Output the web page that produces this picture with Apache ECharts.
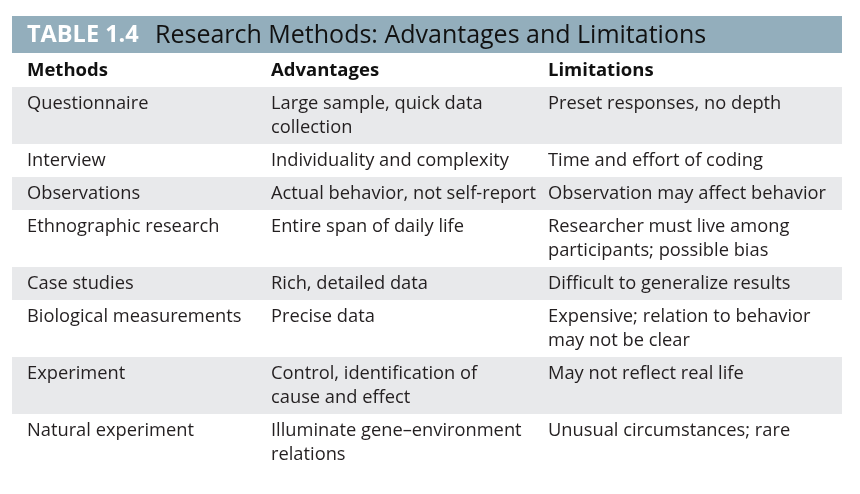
<!DOCTYPE html>
<html><head><meta charset="utf-8">
<script src="https://cdn.jsdelivr.net/npm/echarts@6/dist/echarts.min.js"></script>
<style>html,body{margin:0;padding:0;background:#fff}#c{width:860px;height:494px}</style>
</head><body><div id="c"></div>
<script>
const tableLabel = "TABLE 1.4";
const tableTitle = "Research Methods: Advantages and Limitations";
const headers = ["Methods", "Advantages", "Limitations"];
const methods = ["Questionnaire", "Interview", "Observations", "Ethnographic research", "Case studies", "Biological measurements", "Experiment", "Natural experiment"];
const advantages = ["Large sample, quick data\ncollection", "Individuality and complexity", "Actual behavior, not self-report", "Entire span of daily life", "Rich, detailed data", "Precise data", "Control, identification of\ncause and effect", "Illuminate gene\u2013environment\nrelations"];
const limitations = ["Preset responses, no depth", "Time and effort of coding", "Observation may affect behavior", "Researcher must live among\nparticipants; possible bias", "Difficult to generalize results", "Expensive; relation to behavior\nmay not be clear", "May not reflect real life", "Unusual circumstances; rare"];

const FONT = '"Open Sans", "Noto Sans", sans-serif';
const LH = 24, PAD = 9;
const colX = [15, 259, 536];
function nLines(i){ return Math.max(advantages[i].split('\n').length, limitations[i].split('\n').length, methods[i].split('\n').length); }
const rows = [];
let acc = 0;
for (let i = 0; i < methods.length; i++) {
  const h = PAD + LH * nLines(i);
  rows.push([i, acc, acc + h]);
  acc += h;
}
const total = acc;

const chart = echarts.init(document.getElementById('c'), null, {renderer: 'canvas'});
chart.setOption({
  animation: false,
  grid: {left: 12, top: 87, width: 830, height: total},
  xAxis: {type: 'value', min: 0, max: 830, show: false},
  yAxis: {type: 'value', min: 0, max: total, inverse: true, show: false},
  graphic: [
    {type: 'rect', shape: {x: 12, y: 16, width: 830, height: 37}, style: {fill: '#93AEBC'}},
    {type: 'text', x: 27, y: 35.5, style: {text: tableLabel, font: 'bold 23.5px ' + FONT, fill: '#ffffff', verticalAlign: 'middle'}},
    {type: 'text', x: 155, y: 35.5, style: {text: tableTitle, font: '25px ' + FONT, fill: '#111111', verticalAlign: 'middle'}},
    {type: 'text', x: 12 + colX[0], y: 70.5, style: {text: headers[0], font: 'bold 18.5px ' + FONT, fill: '#111111', verticalAlign: 'middle'}},
    {type: 'text', x: 12 + colX[1], y: 70.5, style: {text: headers[1], font: 'bold 18.5px ' + FONT, fill: '#111111', verticalAlign: 'middle'}},
    {type: 'text', x: 12 + colX[2], y: 70.5, style: {text: headers[2], font: 'bold 18.5px ' + FONT, fill: '#111111', verticalAlign: 'middle'}}
  ],
  series: [{
    type: 'custom',
    data: rows,
    renderItem: function(params, api) {
      const i = api.value(0);
      const p0 = api.coord([0, api.value(1)]);
      const p1 = api.coord([830, api.value(2)]);
      const children = [];
      if (i % 2 === 0) {
        children.push({type: 'rect', shape: {x: p0[0], y: p0[1], width: p1[0] - p0[0], height: p1[1] - p0[1]}, style: {fill: '#E8E9EB'}});
      }
      const texts = [methods[i], advantages[i], limitations[i]];
      for (let c = 0; c < 3; c++) {
        const tx = api.coord([colX[c], 0])[0];
        children.push({type: 'text', x: tx, y: p0[1] + 5, style: {text: texts[c], font: '18.3px ' + FONT, lineHeight: LH, fill: '#231F20', verticalAlign: 'top'}});
      }
      return {type: 'group', children: children};
    }
  }]
});
</script></body></html>
